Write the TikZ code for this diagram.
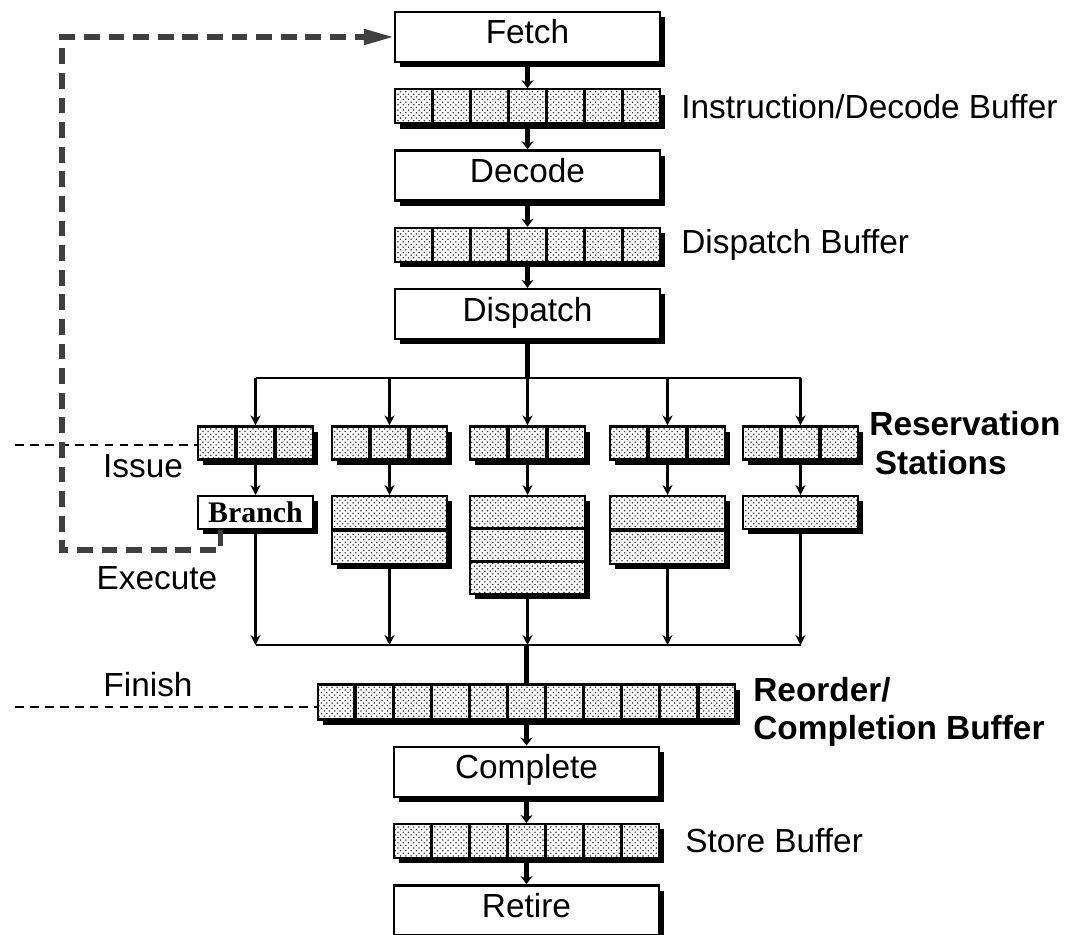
\documentclass[tikz,border=0pt]{standalone}
\usepackage{fontspec}
\setmainfont{Liberation Sans}
\newfontfamily\brfont{Liberation Serif}
\usetikzlibrary{positioning, arrows.meta, calc, shadows, patterns}
\newcommand{\vcells}[2]{%
  \pgfmathtruncatemacro{\lastcell}{#2-1}%
  \foreach \k in {1,...,\lastcell}
    \draw[divider] ($(#1.north west)!\k/#2!(#1.north east)$) -- ($(#1.south west)!\k/#2!(#1.south east)$);}
\newcommand{\hcells}[2]{%
  \pgfmathtruncatemacro{\lastcell}{#2-1}%
  \foreach \k in {1,...,\lastcell}
    \draw[divider] ($(#1.north west)!\k/#2!(#1.south west)$) -- ($(#1.north east)!\k/#2!(#1.south east)$);}
\tikzset{
  darkshadow/.style={drop shadow={shadow xshift=3pt, shadow yshift=-3pt, opacity=1, fill=black}},
  stage/.style ={draw, line width=1.4pt, darkshadow, fill=white, minimum width=5.3cm,
                 minimum height=1cm, inner sep=0pt, text height=0.5cm, text depth=0.22cm,
                 font=\fontsize{19}{22}\selectfont},
  buf/.style   ={draw, line width=1.2pt, darkshadow, preaction={fill=white},
                 pattern=crosshatch dots, pattern color=black!75, minimum width=5.3cm,
                 minimum height=0.68cm, inner sep=0pt},
  rstat/.style ={buf, minimum width=2.3cm, minimum height=0.66cm},
  exu/.style   ={buf, minimum width=2.3cm, anchor=north},
  divider/.style={line width=1.8pt},
  link/.style  ={line width=3pt, -{Stealth[length=1.6mm, width=2.4mm]}},
  trunk/.style ={line width=3.4pt},
  bus/.style   ={line width=1.6pt},
  feed/.style  ={line width=1.8pt, -{Stealth[length=2mm, width=2mm]}},
  lbl/.style   ={inner sep=0pt, font=\fontsize{19}{22}\selectfont, align=left},
  blbl/.style  ={lbl, font=\fontsize{19}{22}\selectfont\bfseries},
  level/.style ={line width=1pt, dash pattern=on 5pt off 3.5pt},
  loopback/.style={line width=3pt, draw=black!75, dash pattern=on 9pt off 5pt,
                 -{Triangle[length=6mm, width=3mm, fill=black!75]}},
}
\begin{document}
\begin{tikzpicture}[x=0.02cm, y=-0.02cm, node distance=0.5cm]
  \useasboundingbox (0,0) rectangle (1072,935);
  % front end
  \node[stage] (fetch) at (527.5,37) {Fetch};
  \node[buf, below=of fetch] (ibuf) {};
  \node[stage, below=of ibuf] (decode) {Decode};
  \node[buf, below=of decode] (dbuf) {};
  \node[stage, below=of dbuf] (disp) {Dispatch};
  \vcells{ibuf}{7}
  \vcells{dbuf}{7}
  \node[lbl, right=0.4cm of ibuf] (ibufl) {Instruction/Decode Buffer};
  \node[lbl, right=0.4cm of dbuf] (dbufl) {Dispatch Buffer};
  \draw[link] (fetch) -- (ibuf);
  \draw[link] (ibuf) -- (decode);
  \draw[link] (decode) -- (dbuf);
  \draw[link] (dbuf) -- (disp);
  % reservation stations
  \node[rstat] (rs1) at (255.5,443) {};
  \node[rstat] (rs2) at (389.5,443) {};
  \node[rstat] (rs3) at (527.5,443) {};
  \node[rstat] (rs4) at (667.5,443) {};
  \node[rstat] (rs5) at (800.5,443) {};
  \foreach \r in {rs1,rs2,rs3,rs4,rs5} {\vcells{\r}{3}}
  \node[blbl, right=0.2cm of rs5] (rsl) {Reservation\\\,Stations};
  \coordinate (top) at (527.5,378);
  \draw[trunk] (disp.south) -- (disp.south |- top);
  \draw[bus] (rs1.north |- top) -- (rs5.north |- top);
  \foreach \r in {rs1,rs2,rs3,rs4,rs5}
    \draw[feed] (\r.north |- top) -- (\r.north);
  % execution units
  \node[draw, line width=1.4pt, darkshadow, fill=white, minimum width=2.3cm,
        minimum height=0.66cm, inner sep=0pt, anchor=north,
        font=\brfont\bfseries\fontsize{17}{20}\selectfont] (eu1) at (255.5,495) {Branch};
  \node[exu, minimum height=1.36cm] (eu2) at (389.5,495) {};
  \node[exu, minimum height=1.96cm] (eu3) at (527.5,495) {};
  \node[exu, minimum height=1.36cm] (eu4) at (667.5,495) {};
  \node[exu, minimum height=0.66cm] (eu5) at (800.5,495) {};
  \hcells{eu2}{2}
  \hcells{eu3}{3}
  \hcells{eu4}{2}
  \foreach \i in {1,...,5}
    \draw[feed] (rs\i.south) -- (eu\i.north);
  \coordinate (bot) at (527.5,645);
  \foreach \i in {1,...,5}
    \draw[feed] (eu\i.south) -- (eu\i.south |- bot);
  \draw[bus] (eu1.south |- bot) -- (eu5.south |- bot);
  % back end
  \node[buf, minimum width=8.34cm, minimum height=0.7cm] (rob) at (526.5,702) {};
  \vcells{rob}{11}
  \node[blbl, right=0.34cm of rob, yshift=-0.2cm] (robl) {Reorder/\\Completion Buffer};
  \draw[trunk] (rob.north |- bot) -- (rob.north);
  \node[stage, below=of rob] (compl) {Complete};
  \node[buf, below=of compl] (sbuf) {};
  \node[stage, below=of sbuf] (retire) {Retire};
  \vcells{sbuf}{7}
  \node[lbl, right=0.5cm of sbuf] (sbufl) {Store Buffer};
  \draw[link] (rob) -- (compl);
  \draw[link] (compl) -- (sbuf);
  \draw[link] (sbuf) -- (retire);
  % pipeline levels
  \coordinate (issueL) at (15,445);
  \coordinate (finishL) at (15,707);
  \draw[level] (issueL) -- (rs1.west |- issueL);
  \draw[level] (finishL) -- (rob.west |- finishL);
  \node[lbl] (issue) at (143,466) {Issue};
  \node[lbl] (exec) at (157,578) {Execute};
  \node[lbl] (finish) at (148,685) {Finish};
  % branch redirect
  \coordinate (loopL) at (62,550);
  \draw[loopback] ([xshift=0.48cm]eu1.south west) |- (loopL) |- (fetch.west);
\end{tikzpicture}
\end{document}
